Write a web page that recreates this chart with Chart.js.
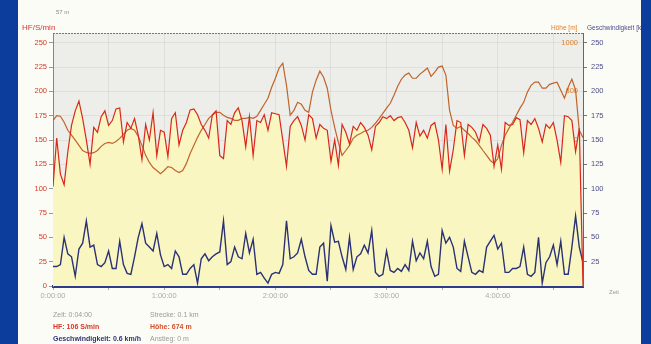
<!DOCTYPE html>
<html>
<head>
<meta charset="utf-8">
<script src="https://cdn.jsdelivr.net/npm/chart.js@4.4.1/dist/chart.umd.min.js"></script>
<style>
  html, body { margin: 0; padding: 0; width: 651px; height: 344px; overflow: hidden; background: #0c3c9c; }
  #panel { position: absolute; left: 18px; top: 0; width: 623px; height: 344px; background: #fcfcf6; overflow: hidden; }
  #wrap { position: absolute; left: -18px; top: 0; width: 651px; height: 344px; }
  .t { position: absolute; font-family: "Liberation Sans", Arial, sans-serif; font-size: 7px; white-space: nowrap; line-height: 1; }
</style>
</head>
<body>
<div id="panel">
  <div id="wrap">
    <canvas id="chart" width="651" height="344"></canvas>
    <div class="t" style="left:56px;top:9px;font-size:6px;color:#888;">57 m</div>
    <div class="t" style="left:22px;top:24px;font-size:8px;color:#d4382a;">HF/S/min</div>
    <div class="t" style="left:551px;top:25px;font-size:6.5px;color:#e0802a;">Höhe [m]</div>
    <div class="t" style="left:587px;top:25px;font-size:6.5px;color:#4c4c88;">Geschwindigkeit [km/h]</div>
    <div class="t" style="left:609px;top:289px;font-size:6px;color:#999;">Zeit</div>

    <div class="t" style="left:53px;top:311px;color:#999;">Zeit: 0:04:00</div>
    <div class="t" style="left:53px;top:323px;color:#d4382a;font-weight:bold;">HF: 106 S/min</div>
    <div class="t" style="left:53px;top:335px;color:#2e3470;font-weight:bold;">Geschwindigkeit: 0.6 km/h</div>
    <div class="t" style="left:150px;top:311px;color:#999;">Strecke: 0.1 km</div>
    <div class="t" style="left:150px;top:323px;color:#d4502a;font-weight:bold;">Höhe: 674 m</div>
    <div class="t" style="left:150px;top:335px;color:#999;">Anstieg: 0 m</div>
  </div>
</div>
<script>
// time in minutes since start
const minutes = [0,2,4,6,8,10,12,14,16,18,20,22,24,26,28,30,32,34,36,38,
  40,42,44,46,48,50,52,54,56,58,60,62,64,66,68,70,72,74,76,78,
  80,82,84,86,88,90,92,94,96,98,100,102,104,106,108,110,112,114,116,118,
  120,122,124,126,128,130,132,134,136,138,140,142,144,146,148,150,152,154,156,158,
  160,162,164,166,168,170,172,174,176,178,180,182,184,186,188,190,192,194,196,198,
  200,202,204,206,208,210,212,214,216,218,220,222,224,226,228,230,232,234,236,238,
  240,242,244,246,248,250,252,254,256,258,260,262,264,266,268,270,272,274,276,278,
  280,282,284,286];

// Herzfrequenz (S/min)
const heartRate = [102,152,115,104,138,165,180,190,172,150,
  125,163,158,174,180,165,170,182,183,148,
  168,162,172,155,130,166,150,178,134,160,
  158,133,172,178,145,160,168,181,182,176,
  166,160,152,176,180,134,131,170,166,178,
  183,170,143,174,134,170,168,176,160,178,
  177,176,150,123,164,170,174,165,150,176,
  172,152,166,162,160,128,150,124,166,158,
  146,164,160,168,163,155,140,164,168,174,
  172,175,170,173,174,168,160,142,168,154,
  160,152,165,168,150,120,166,118,140,170,
  168,134,166,163,158,148,166,162,155,123,
  145,120,168,165,166,173,171,137,170,166,
  172,162,148,166,162,168,150,127,175,174,
  170,138,162,0];

// Höhe (m)
const altitude = [680,700,698,673,640,620,600,578,557,549,
  545,548,557,574,586,590,586,594,607,623,
  640,648,640,615,578,537,508,487,475,462,
  475,491,487,475,466,475,504,545,578,611,
  640,664,689,702,714,714,702,693,689,681,
  681,689,689,693,689,698,722,747,772,817,
  854,896,916,825,702,722,755,747,722,714,
  797,846,883,858,813,722,652,590,537,557,
  578,607,620,627,636,640,652,669,689,710,
  731,751,784,821,850,867,875,854,854,871,
  883,896,862,879,900,904,867,722,660,648,
  656,640,627,611,598,578,557,537,516,504,
  524,578,620,648,673,702,731,755,797,825,
  838,838,813,813,829,834,838,805,772,817,
  850,805,640,610];

// Geschwindigkeit (km/h)
const speed = [20,20,22,50,33,30,10,38,44,67,
  40,42,22,20,24,36,18,18,46,22,
  13,12,30,50,64,44,40,36,54,32,
  20,22,18,36,30,12,12,18,22,3,
  28,33,26,30,33,35,67,22,25,40,
  30,28,54,34,48,12,14,8,3,12,
  14,13,22,67,28,30,34,48,30,16,
  12,12,40,44,5,62,45,46,30,17,
  50,17,30,33,42,34,57,14,10,12,
  36,16,14,18,15,22,16,46,26,34,
  28,46,20,10,12,57,44,50,40,18,
  15,46,30,14,12,16,14,40,46,52,
  38,44,14,14,18,18,20,40,12,10,
  14,50,3,24,30,42,22,46,12,12,
  40,72,40,24];

const hfTicks = [0, 25, 50, 75, 100, 125, 150, 175, 200, 225, 250];
const hoeheTicks = [200, 400, 600, 800, 1000];
const speedTicks = [25, 50, 75, 100, 125, 150, 175, 200, 225, 250];

const xy = (arr) => arr.map((v, i) => ({ x: minutes[i], y: v }));
const FONT = { family: 'Liberation Sans', size: 7.5 };

const plotBackground = {
  id: 'plotBackground',
  beforeDraw(chart) {
    const { ctx, chartArea: a } = chart;
    ctx.save();
    ctx.fillStyle = '#ededea';
    ctx.fillRect(a.left, a.top, a.right - a.left, a.bottom - a.top);
    ctx.restore();
  },
  afterDraw(chart) {
    const { ctx, chartArea: a } = chart;
    ctx.save();
    ctx.strokeStyle = '#777';
    ctx.lineWidth = 1;
    ctx.setLineDash([2, 1]);
    ctx.beginPath();
    ctx.moveTo(a.left, a.top + 0.5);
    ctx.lineTo(a.right, a.top + 0.5);
    ctx.stroke();
    ctx.restore();
  }
};

new Chart(document.getElementById('chart'), {
  type: 'line',
  data: {
    datasets: [
      {
        label: 'HF',
        data: xy(heartRate),
        yAxisID: 'y',
        borderColor: '#d8281c',
        backgroundColor: '#faf6c2',
        borderWidth: 1.2,
        fill: 'origin',
        pointRadius: 0,
        tension: 0,
      },
      {
        label: 'Höhe',
        data: xy(altitude),
        yAxisID: 'hoehe',
        borderColor: '#c0642c',
        borderWidth: 1.2,
        fill: false,
        pointRadius: 0,
        tension: 0,
      },
      {
        label: 'Geschwindigkeit',
        data: xy(speed),
        yAxisID: 'y',
        borderColor: '#2a3274',
        borderWidth: 1.4,
        fill: false,
        pointRadius: 0,
        tension: 0,
      },
    ],
  },
  options: {
    responsive: false,
    animation: false,
    devicePixelRatio: 1,
    layout: { padding: { top: 33, left: 0, right: 0, bottom: 0 } },
    plugins: {
      legend: { display: false },
      tooltip: { enabled: false },
      filler: { drawTime: 'beforeDatasetsDraw' },
    },
    scales: {
      x: {
        type: 'linear',
        min: 0,
        max: 286,
        afterFit: (s) => { s.height = 58; },
        afterBuildTicks: (s) => { s.ticks = [0, 30, 60, 90, 120, 150, 180, 210, 240, 270].map(v => ({ value: v })); },
        ticks: {
          autoSkip: false,
          maxRotation: 0,
          color: '#aaa',
          font: FONT,
          padding: 1,
          callback: (v) => (v % 60 === 0 ? (v / 60) + ':00:00' : ''),
        },
        grid: { color: 'rgba(140,140,140,0.16)', tickColor: '#aaa', tickLength: 4 },
        border: { color: '#2e3a8a', width: 3 },
      },
      y: {
        position: 'left',
        min: 0,
        max: 260,
        afterFit: (s) => { s.width = 53; },
        afterBuildTicks: (s) => { s.ticks = hfTicks.map(v => ({ value: v })); },
        ticks: { color: '#d4382a', font: FONT, padding: 2 },
        grid: { color: 'rgba(140,140,140,0.14)', tickColor: '#999', tickLength: 4 },
        border: { color: '#888' },
      },
      hoehe: {
        position: 'right',
        weight: 0,
        min: 0,
        max: 1040,
        afterFit: (s) => { s.width = 0; },
        afterBuildTicks: (s) => { s.ticks = hoeheTicks.map(v => ({ value: v })); },
        ticks: { mirror: true, color: '#e0802a', font: FONT, padding: -5, callback: (v) => String(v) },
        grid: { display: false },
        border: { display: false },
      },
      speed: {
        position: 'right',
        weight: 1,
        min: 0,
        max: 260,
        afterFit: (s) => { s.width = 68; },
        afterBuildTicks: (s) => { s.ticks = speedTicks.map(v => ({ value: v })); },
        ticks: { color: '#4c4c88', font: FONT, padding: 4 },
        grid: { drawOnChartArea: false, tickColor: '#777', tickLength: 4 },
        border: { color: '#666' },
      },
    },
  },
  plugins: [plotBackground],
});
</script>
</body>
</html>
